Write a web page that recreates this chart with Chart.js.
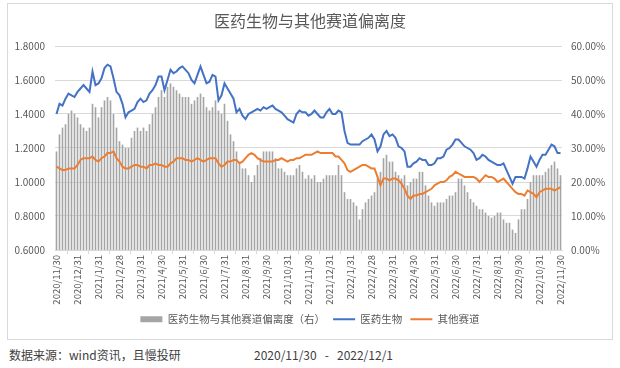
<!DOCTYPE html>
<html>
<head>
<meta charset="utf-8">
<script src="https://cdn.jsdelivr.net/npm/chart.js@4.4.0/dist/chart.umd.min.js"></script>
<style>
  html, body { margin: 0; padding: 0; background: #ffffff; }
  body { width: 620px; height: 368px; position: relative; overflow: hidden; font-family: "Noto Sans CJK SC", sans-serif; }
  #frame { position: absolute; left: 7px; top: 3px; width: 606px; height: 337px; box-sizing: border-box; border: 1px solid #d9d9d9; }
  #c { position: absolute; left: 7px; top: 3px; }
  .foot { position: absolute; top: 346px; font-size: 12px; color: #404040; white-space: pre; }
</style>
</head>
<body>
<div id="frame"></div>
<canvas id="c" width="606" height="337"></canvas>
<div class="foot" style="left:9px;">数据来源：wind资讯，且慢投研</div>
<div class="foot" style="left:254px;">2020/11/30   -   2022/12/1</div>
<script>
// Month-end tick labels (one every 7 samples)
const tickLabels = ["2020/11/30","2020/12/31","2021/1/31","2021/2/28","2021/3/31","2021/4/30","2021/5/31","2021/6/30","2021/7/31","2021/8/31","2021/9/30","2021/10/31","2021/11/30","2021/12/31","2022/1/31","2022/2/28","2022/3/31","2022/4/30","2022/5/31","2022/6/30","2022/7/31","2022/8/31","2022/9/30","2022/10/31","2022/11/30"];
const samplesPerMonth = 7;

// 医药生物 (left axis)
const pharma = [
1.40,1.46,1.45,1.49,1.52,1.51,1.50,1.53,1.55,1.57,1.55,1.53,1.65,1.57,1.58,1.61,1.67,1.69,1.68,1.61,1.53,1.51,1.46,1.38,1.41,1.42,1.43,1.47,1.49,1.47,1.48,1.52,1.54,1.57,1.62,1.62,1.54,1.60,1.66,1.64,1.65,1.67,1.68,1.66,1.64,1.60,1.58,1.63,1.68,1.63,1.58,1.59,1.63,1.62,1.48,
1.51,1.58,1.55,1.52,1.49,1.41,1.43,1.39,1.37,1.40,1.41,1.42,1.43,1.42,1.44,1.43,1.44,1.45,1.43,1.42,1.41,1.39,1.37,1.36,1.35,1.40,1.42,1.41,1.41,1.39,1.40,1.42,1.40,1.38,1.38,1.41,1.43,1.40,1.40,1.42,1.41,1.30,1.23,1.22,1.22,1.22,1.22,1.24,1.25,1.26,1.28,1.25,1.18,1.21,1.28,1.30,1.27,
1.28,1.26,1.21,1.20,1.18,1.09,1.09,1.11,1.12,1.14,1.13,1.13,1.10,1.10,1.11,1.14,1.14,1.15,1.19,1.20,1.22,1.25,1.25,1.23,1.21,1.20,1.19,1.17,1.13,1.14,1.16,1.15,1.13,1.12,1.11,1.10,1.10,1.11,1.07,1.03,0.99,1.03,1.03,1.03,1.02,1.08,1.15,1.12,1.09,1.13,1.16,1.16,1.19,1.22,1.21,1.17,1.17
];

// 其他赛道 (left axis)
const others = [
1.09,1.08,1.07,1.07,1.08,1.08,1.08,1.10,1.13,1.14,1.14,1.14,1.15,1.13,1.12,1.14,1.15,1.17,1.17,1.18,1.14,1.12,1.09,1.08,1.08,1.09,1.10,1.10,1.09,1.09,1.08,1.10,1.10,1.11,1.10,1.10,1.09,1.09,1.11,1.12,1.14,1.14,1.14,1.13,1.13,1.12,1.13,1.14,1.13,1.12,1.13,1.14,1.14,1.14,1.11,
1.09,1.10,1.12,1.12,1.13,1.13,1.11,1.12,1.14,1.16,1.17,1.16,1.14,1.13,1.12,1.12,1.12,1.12,1.13,1.13,1.14,1.13,1.12,1.13,1.13,1.14,1.14,1.15,1.16,1.16,1.16,1.17,1.18,1.17,1.17,1.17,1.17,1.17,1.15,1.15,1.13,1.11,1.07,1.06,1.07,1.08,1.09,1.10,1.10,1.09,1.08,1.08,1.03,0.98,1.02,1.02,1.01,
1.02,1.02,1.01,0.99,0.96,0.92,0.90,0.92,0.92,0.93,0.93,0.94,0.95,0.96,0.98,0.99,1.00,1.00,1.01,1.03,1.04,1.06,1.05,1.04,1.03,1.03,1.03,1.03,1.02,1.00,1.02,1.04,1.03,1.03,1.02,1.00,1.01,1.02,1.00,0.98,0.96,0.94,0.93,0.93,0.92,0.95,0.94,0.93,0.91,0.94,0.95,0.96,0.96,0.96,0.95,0.96,0.97
];

// 医药生物与其他赛道偏离度 (right axis, %)
const deviation = [
29,34,36,37,40,41,40,39,37,36,35,36,43,42,39,42,44,45,44,40,36,32,31,30,30,33,35,36,35,36,35,37,40,42,45,47,45,48,49,48,47,46,45,45,45,43,44,45,46,45,42,41,42,44,41,
40,43,38,34,32,29,26,24,24,22,20,22,25,27,29,29,29,29,27,24,24,23,22,22,22,24,25,23,21,22,21,22,20,20,21,22,22,22,22,25,22,17,15,15,14,13,9,12,14,15,16,17,21,23,27,28,26,
26,23,22,21,22,19,20,21,21,23,23,19,16,14,13,14,14,14,15,16,16,17,21,21,19,17,15,14,13,12,12,11,10,9.5,10,11,11,9,8,8,6,5,9,12,12,15,20,22,22,22,22,23,24,25,26,24,22
];

const categories = pharma.map((_, i) => (i % samplesPerMonth === 0 ? tickLabels[i / samplesPerMonth] : ''));

const FONT = '"Noto Sans CJK SC", "Noto Sans", sans-serif';
const TXT = '#595959';
Chart.defaults.font.family = FONT;
Chart.defaults.color = TXT;

new Chart(document.getElementById('c'), {
  data: {
    labels: categories,
    datasets: [
      {
        type: 'bar',
        label: '医药生物与其他赛道偏离度（右）',
        data: deviation,
        yAxisID: 'y1',
        backgroundColor: '#a5a5a5',
        borderWidth: 0,
        barPercentage: 0.55,
        categoryPercentage: 1.0,
        pointStyle: 'rect',
        order: 3
      },
      {
        type: 'line',
        label: '医药生物',
        data: pharma,
        yAxisID: 'y',
        borderColor: '#4472c4',
        backgroundColor: '#4472c4',
        borderWidth: 2,
        pointRadius: 0,
        pointHoverRadius: 0,
        pointBorderWidth: 2,
        pointBorderColor: '#4472c4',
        pointStyle: 'line',
        tension: 0,
        order: 1
      },
      {
        type: 'line',
        label: '其他赛道',
        data: others,
        yAxisID: 'y',
        borderColor: '#ed7d31',
        backgroundColor: '#ed7d31',
        borderWidth: 2,
        pointRadius: 0,
        pointHoverRadius: 0,
        pointBorderWidth: 2,
        pointBorderColor: '#ed7d31',
        pointStyle: 'line',
        tension: 0,
        order: 2
      }
    ]
  },
  options: {
    responsive: false,
    animation: false,
    layout: { padding: { left: 0, right: 0, top: 0, bottom: 5.5 } },
    plugins: {
      tooltip: { enabled: false },
      title: {
        display: true,
        text: '医药生物与其他赛道偏离度',
        color: TXT,
        font: { size: 16, weight: 'normal', family: FONT },
        lineHeight: 1.2,
        padding: { top: 8, bottom: 15.8 }
      },
      legend: {
        position: 'bottom',
        labels: {
          usePointStyle: true,
          pointStyleWidth: 22,
          boxHeight: 6,
          padding: 8,
          color: TXT,
          font: { size: 10.5, family: FONT },
          sort: (a, b) => a.datasetIndex - b.datasetIndex
        }
      }
    },
    scales: {
      x: {
        type: 'category',
        offset: true,
        grid: { display: true, drawOnChartArea: false, drawTicks: true, tickLength: 4, color: '#d9d9d9' },
        border: { display: true, color: '#d9d9d9' },
        ticks: {
          autoSkip: false,
          minRotation: 90,
          maxRotation: 90,
          padding: 1,
          color: TXT,
          font: { size: 9.5, family: FONT },
          callback: function (val, idx) {
            return idx % samplesPerMonth === 0 ? tickLabels[idx / samplesPerMonth] : null;
          }
        },
        afterFit: function (s) { s.height = 56; }
      },
      y: {
        position: 'left',
        min: 0.6,
        max: 1.8,
        ticks: {
          stepSize: 0.2,
          padding: 10,
          color: TXT,
          font: { size: 10, family: FONT },
          callback: (v) => Number(v).toFixed(4)
        },
        grid: { color: '#d9d9d9', drawTicks: false },
        border: { display: false },
        afterFit: function (s) { s.width = 48; }
      },
      y1: {
        position: 'right',
        min: 0,
        max: 60,
        ticks: {
          stepSize: 10,
          padding: 9,
          color: TXT,
          font: { size: 10, family: FONT },
          callback: (v) => Number(v).toFixed(2) + '%'
        },
        grid: { display: false, drawTicks: false },
        border: { display: false },
        afterFit: function (s) { s.width = 51; }
      }
    }
  }
});
</script>
</body>
</html>
